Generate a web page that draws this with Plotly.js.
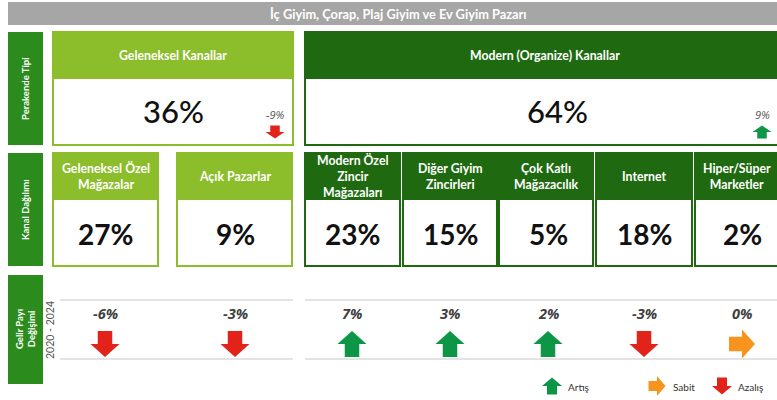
<!DOCTYPE html>
<html>
<head>
<meta charset="utf-8">
<script src="https://cdn.plot.ly/plotly-3.0.1.min.js"></script>
<style>html,body{margin:0;padding:0;background:#fff;}#chart{width:777px;height:400px;}</style>
</head>
<body>
<div id="chart"></div>
<script>
// ---------- DATA ----------
const chartTitle = 'İç Giyim, Çorap, Plaj Giyim ve Ev Giyim Pazarı';
const rowLabels = ['Perakende Tipi', 'Kanal Dağılımı', 'Gelir Payı<br>Değişimi'];
const periodLabel = '2020 - 2024';
const retailTypes = ['Geleneksel Kanallar', 'Modern (Organize) Kanallar'];
const retailShares = [36, 64];
const retailChanges = [-9, 9];
const channels = ['Geleneksel Özel<br>Mağazalar', 'Açık Pazarlar', 'Modern Özel<br>Zincir<br>Mağazaları',
                  'Diğer Giyim<br>Zincirleri', 'Çok Katlı<br>Mağazacılık', 'Internet', 'Hiper/Süper<br>Marketler'];
const channelGroup = [0, 0, 1, 1, 1, 1, 1];
const channelShares = [27, 9, 23, 15, 5, 18, 2];
const channelChanges = [-6, -3, 7, 3, 2, -3, 0];
const legendLabels = ['Artış', 'Sabit', 'Azalış'];
const legendDirs = [1, 0, -1];

// ---------- LAYOUT GEOMETRY ----------
const groupColors = ['#8cbd2b', '#1f6a11'];
const labelColor = '#2b8b1c';
const upColor = '#0e9647', downColor = '#e2231a', flatColor = '#f7941d';
const topBoxes = [[53, 293], [305, 785]];
const colBoxes = [[53, 158], [177, 292], [305, 400], [403, 497], [499, 593], [596, 692], [695, 779]];
const colCenters = [105, 235, 352, 450, 548, 644, 742];
const FONT = 'Lato, "Open Sans", sans-serif';
const IFONT = '"Open Sans", Lato, sans-serif';

const shapes = [];
const annotations = [];
const traces = [];

function rect(x0, y0, x1, y1, fill, line, lw) {
  shapes.push({type: 'rect', xref: 'x', yref: 'y', x0, y0, x1, y1, fillcolor: fill,
               line: {color: line || fill, width: lw || 0}, layer: 'below'});
}
function text(x, y, t, opts) {
  annotations.push(Object.assign({xref: 'x', yref: 'y', x, y, text: t, showarrow: false,
    xanchor: 'center', yanchor: 'middle',
    font: {family: FONT, size: 11, color: '#fff'}}, opts || {}));
}
function arrow(cx, cy, dir, w, h) {
  const sw = w * 0.5;
  let xs, ys, color;
  if (dir === 0) {
    color = flatColor;
    xs = [cx + h / 2, cx, cx, cx - h / 2, cx - h / 2, cx, cx, cx + h / 2];
    ys = [cy, cy - w / 2, cy - sw / 2, cy - sw / 2, cy + sw / 2, cy + sw / 2, cy + w / 2, cy];
  } else {
    const s = dir > 0 ? 1 : -1;
    color = dir > 0 ? upColor : downColor;
    xs = [cx, cx + w / 2, cx + sw / 2, cx + sw / 2, cx - sw / 2, cx - sw / 2, cx - w / 2, cx];
    ys = [cy - s * h / 2, cy, cy, cy + s * h / 2, cy + s * h / 2, cy, cy, cy - s * h / 2];
  }
  traces.push({type: 'scatter', mode: 'lines', x: xs, y: ys, fill: 'toself', fillcolor: color,
               line: {width: 0, color: color}, hoverinfo: 'skip', showlegend: false});
}
const dirOf = v => v > 0 ? 1 : (v < 0 ? -1 : 0);
const pct = v => v + '%';

// Title bar
rect(8, 2, 777, 25, '#a6a6a6');
text(398, 13.5, '<b>' + chartTitle + '</b>', {font: {family: FONT, size: 12.8, color: '#fff'}});

// Row labels
const labelRows = [[32, 145], [153, 266], [275, 384]];
labelRows.forEach((r, i) => {
  rect(8, r[0], 43, r[1], labelColor);
  text(25.5, (r[0] + r[1]) / 2, '<b>' + rowLabels[i] + '</b>',
       {textangle: -90, font: {family: FONT, size: 9.5, color: '#fff'}});
});
text(50, 330, periodLabel, {textangle: -90, font: {family: FONT, size: 10.5, color: '#555'}});

// Row 1: retail types
retailTypes.forEach((name, i) => {
  const [x0, x1] = topBoxes[i];
  const c = groupColors[i];
  rect(x0, 32, x1, 145, '#fff', c, 2);
  rect(x0, 32, x1, 78, c, c, 2);
  text((x0 + x1) / 2, 55, '<b>' + name + '</b>', {font: {family: FONT, size: 12.3, color: '#fff'}});
});
const topValX = [173, 557];
const topChgX = [275, 762];
retailShares.forEach((v, i) => {
  text(topValX[i], 111, pct(v), {font: {family: FONT, size: 31, color: '#111', weight: 500}});
  text(topChgX[i], 114, pct(retailChanges[i]),
       {font: {family: IFONT, size: 11, color: '#555', style: 'italic'}});
  arrow(topChgX[i], 132, dirOf(retailChanges[i]), 19, 13);
});

// Row 2: channels
channels.forEach((name, i) => {
  const [x0, x1] = colBoxes[i];
  const c = groupColors[channelGroup[i]];
  rect(x0, 153, x1, 266, '#fff', c, 2);
  rect(x0, 153, x1, 199, c, c, 2);
  text((x0 + x1) / 2, 176, '<b>' + name + '</b>', {font: {family: FONT, size: 12.3, color: '#fff'}});
  text(colCenters[i], 234, '<b>' + pct(channelShares[i]) + '</b>', {font: {family: FONT, size: 28, color: '#111'}});
});

// Row 3: share change
[[60, 293], [305, 777]].forEach(seg => {
  [300, 359].forEach(y => shapes.push({type: 'line', xref: 'x', yref: 'y', x0: seg[0], x1: seg[1], y0: y, y1: y,
                                        line: {color: '#c8c8c8', width: 1}}));
});
channelChanges.forEach((v, i) => {
  text(colCenters[i], 313, pct(v),
       {font: {family: IFONT, size: 14.5, color: '#404040', weight: 'bold', style: 'italic'}});
  arrow(colCenters[i], 344, dirOf(v), 29, 26);
});

// Legend
const legArrowX = [552, 657, 722];
legendLabels.forEach((lab, i) => {
  arrow(legArrowX[i], 386, legendDirs[i], 20, 17);
  text(legArrowX[i] + 14, 387, lab, {xanchor: 'left', font: {family: FONT, size: 10, color: '#333'}});
});

const layout = {
  width: 777, height: 400,
  margin: {l: 0, r: 0, t: 0, b: 0},
  paper_bgcolor: '#fff', plot_bgcolor: '#fff',
  xaxis: {range: [0, 777], visible: false, fixedrange: true},
  yaxis: {range: [400, 0], visible: false, fixedrange: true},
  shapes, annotations, showlegend: false
};
Plotly.newPlot('chart', traces, layout, {displayModeBar: false, staticPlot: true});
</script>
</body>
</html>
